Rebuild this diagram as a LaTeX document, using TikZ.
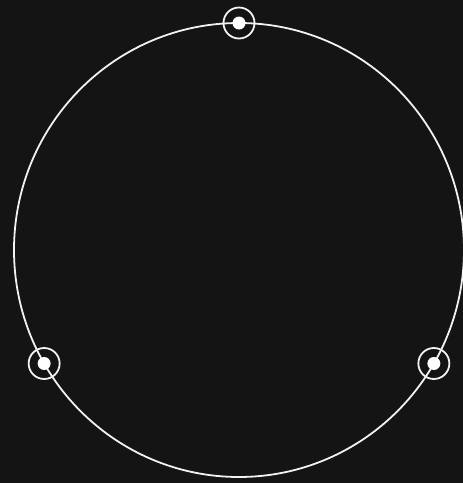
\documentclass[tikz,border=0pt]{standalone}
\usepackage{tikz}
\usetikzlibrary{calc}
\definecolor{bgdark}{HTML}{141414}
\definecolor{linewhite}{HTML}{F2F2F2}

\begin{document}
\begin{tikzpicture}[x=1pt,y=-1pt,
    ring/.style={circle,draw=linewhite,line width=1.8pt,minimum size=31pt,inner sep=0pt},
    dot/.style={circle,fill=white,minimum size=13pt,inner sep=0pt}]
    % 背景
    \fill[bgdark] (0,0) rectangle (463,483);
    \useasboundingbox (0,0) rectangle (463,483);

    % 大圆
    \coordinate (O) at (239,250);
    \draw[linewhite, line width=1.8pt] (O) ellipse (225 and 227);

    % 圆上三点
    \foreach \ang/\name in {90/top,210/left,330/right} {
        \node[ring] (\name) at ($(O)+(\ang:225 and -227)$) {};
        \node[dot] (\name dot) at (\name) {};
    }
\end{tikzpicture}
\end{document}
